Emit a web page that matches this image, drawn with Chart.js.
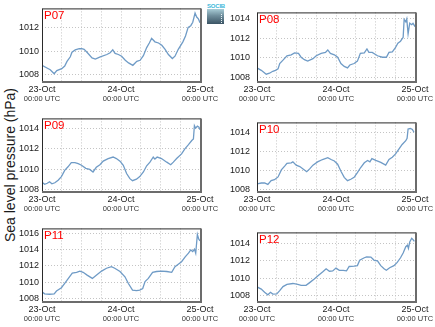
<!DOCTYPE html>
<html>
<head>
<meta charset="utf-8">
<script src="https://cdn.jsdelivr.net/npm/chart.js@4"></script>
<style>
  body { margin: 0; background: #fff; width: 435px; height: 327px; overflow: hidden; position: relative;
         font-family: "Liberation Sans", Arial, sans-serif; }
  .panel { position: absolute; width: 220px; height: 103px; }
  #ylabel { position: absolute; left: 10px; top: 165px; transform: translate(-50%, -50%) rotate(-90deg);
            font-size: 14px; white-space: nowrap; color: #1a1a1a; }
  #logo { position: absolute; left: 207px; top: 3px; width: 17px; }
  #logo .txt { font-size: 6px; font-weight: bold; color: #3cb8da; line-height: 6px; letter-spacing: -0.2px; }
  #logo .box { position: relative; margin-top: 0px; width: 17px; height: 15px;
               background: linear-gradient(#a8ccd6, #6f8e9c 45%, #3b5464); }
  #logo .box span { position: absolute; left: 14px; top: 5px; height: 9px; border-left: 1px dotted #e8f2f6; }
</style>
</head>
<body>
<div id="ylabel">Sea level pressure (hPa)</div>
<div id="logo"><div class="txt">SOCIB</div><div class="box"><span></span></div></div>

<canvas id="c0" class="panel" width="220" height="103" style="left:0;top:0"></canvas>
<canvas id="c1" class="panel" width="220" height="103" style="left:215px;top:0"></canvas>
<canvas id="c2" class="panel" width="220" height="103" style="left:0;top:110px"></canvas>
<canvas id="c3" class="panel" width="220" height="103" style="left:215px;top:110px"></canvas>
<canvas id="c4" class="panel" width="220" height="103" style="left:0;top:220px"></canvas>
<canvas id="c5" class="panel" width="220" height="103" style="left:215px;top:220px"></canvas>

<script>
// hours since 23-Oct 00:00 UTC and sea level pressure (hPa) for each station
const p07Hours = [0,1.5,2.5,3.7,4.5,6,6.9,7.6,8.6,9.1,10.1,11.3,12.1,12.8,13.8,15.2,16.2,17.7,19.7,20.7,
  21.5,22.2,23.2,24.2,25.3,26.3,27.6,28.8,29.8,30.8,31.8,32.6,33.3,34.3,35.4,36.4,37.4,38.4,39.6,40.4,
  41.4,42.8,43.6,44.4,45.2,45.8,46.5,47,47.5,48];
const p07Pres = [1008.76,1008.53,1008.38,1008.03,1008.3,1008.47,1008.7,1009.1,1009.5,1009.9,
  1010.1,1010.2,1010.2,1010.15,1009.85,1009.4,1009.3,1009.5,1009.7,1009.85,
  1010.1,1009.8,1009.7,1009.55,1009.2,1008.97,1008.76,1009.1,1009.2,1009.6,
  1010.3,1010.7,1011.1,1010.8,1010.7,1010.5,1010.15,1009.7,1009.35,1009.55,
  1010.15,1010.8,1011.3,1012.05,1012.2,1012.5,1013.3,1012.95,1012.8,1012.45];

const p08Hours = [0,1.3,2.8,3.8,4.8,5.6,6.4,6.9,7.9,9.1,10.4,11.4,12.6,13.4,14.4,15.4,17,18,19.5,20.8,
  21.5,22.3,23.5,24.5,25.5,26.5,27.5,28.2,29.5,30.5,31.4,32.6,33.4,34,35,36.6,38.1,39.3,40.1,41.1,
  42,42.8,43.6,44.4,44.7,45.2,45.5,45.9,46.4,47,47.4,48];
const p08Pres = [1008.95,1008.7,1008.3,1008.4,1008.6,1008.7,1008.85,1009.4,1009.75,1010.2,
  1010.3,1010.5,1010.45,1010.05,1009.8,1009.65,1009.9,1010.2,1010.45,1010.55,
  1010.8,1010.45,1010.3,1010.05,1009.4,1009.1,1008.95,1009.25,1009.4,1009.65,
  1010.45,1010.5,1010.9,1010.55,1010.55,1010.2,1010.05,1010.05,1010.55,1010.6,
  1011,1011.5,1011.7,1012.1,1013.95,1013.7,1014,1012.45,1013.55,1013.4,1013.55,1013.2];

const p09Hours = [0,0.8,1.6,2.3,3,3.9,4.9,5.9,6.9,7.9,8.9,10,11,12,13.3,14.5,15.5,16.5,17.6,18.6,
  20.1,21.6,22.6,23.7,24.7,25.7,26.7,27.5,28.7,29.7,30.8,31.8,32.8,33.8,34.3,35,36.3,37.9,39.1,39.9,
  40.9,42.4,43.4,44.5,45.5,46,46.3,46.7,47.2,47.7,48];
const p09Pres = [1008.75,1008.55,1008.65,1008.8,1008.6,1008.7,1008.95,1009.3,1009.9,1010.25,
  1010.65,1010.65,1010.55,1010.4,1010.1,1010,1009.75,1010.2,1010.45,1010.8,
  1011.05,1011.2,1011.05,1010.8,1010.4,1009.6,1009.1,1008.9,1009.05,1009.3,
  1009.75,1010.35,1010.7,1011.2,1011,1011.2,1011.05,1010.7,1010.45,1010.7,
  1011.05,1011.5,1012,1012.4,1012.8,1012.95,1014.25,1014,1014.2,1014.1,1013.85];

const p10Hours = [0,1.3,2.3,3.3,4.3,5.3,6.4,7.4,8.4,9.1,10.4,10.9,11.9,13,14,15.1,16,17,18.4,19.9,
  21.5,22.5,23.5,24.5,25.5,26.5,27.5,28.5,29.5,30.5,31.5,32.6,33.6,34.3,34.9,36.1,37.6,39.1,40.1,41.1,
  42.1,43.1,44.1,45.2,45.6,45.9,46.6,47.2,47.7];
const p10Pres = [1008.55,1008.65,1008.65,1008.5,1008.9,1009,1009.3,1010.05,1010.45,1010.75,
  1010.8,1010.9,1010.55,1010.4,1010.15,1009.85,1010.15,1010.55,1010.9,1011.15,
  1011.35,1011.15,1011,1010.65,1009.9,1009.25,1008.9,1009.05,1009.25,1009.75,
  1010.3,1010.8,1011.05,1010.9,1011.25,1011.05,1010.85,1010.55,1011.15,1011.4,
  1011.75,1012.25,1012.75,1013.15,1013.4,1014.4,1014.45,1014.35,1014.05];

const p11Hours = [0,0.8,2.3,3.7,4.4,5.9,6.9,7.9,9.2,10.5,11.5,12.5,13.7,15.3,16.5,18.1,19.6,21.1,22.1,23.7,
  25.2,26.2,27.5,28.7,29.7,30.6,31.3,32.3,33.6,34.8,36.3,37.9,39.4,40.4,41.4,42.4,43.5,44.5,45.2,45.8,
  46.3,46.7,47.2,47.6,48];
const p11Pres = [1008.8,1008.55,1008.5,1008.55,1008.9,1009.3,1009.85,1010.4,1011.1,1011.2,
  1011.35,1011.2,1010.85,1010.45,1010.85,1011.35,1011.7,1011.9,1011.7,1011.3,
  1010.65,1009.85,1009,1008.95,1009,1009.2,1010.05,1010.45,1011.2,1011.3,
  1011.35,1011.3,1011.2,1011.9,1012.2,1012.5,1013.1,1013.55,1013.95,1013.75,
  1014.05,1013.55,1015.85,1015.3,1015.05];

const p12Hours = [0,1.3,2.3,3.3,4.1,4.8,6,6.9,7.9,9.1,10.9,12.4,13.4,14.9,15.9,17.4,18.8,20,21,22,
  23,24,25,26.2,27.2,28,29.5,30.5,31.2,32.6,33.3,34.6,35.6,36.6,37.6,38.6,39.3,40.3,41.6,42.6,
  43.6,44.4,45.2,45.7,46,46.4,47,47.4,47.8];
const p12Pres = [1008.98,1008.73,1008.36,1008.07,1008.36,1008.15,1008.18,1008.55,1009.02,1009.27,
  1009.38,1009.27,1009.16,1009.16,1009.45,1009.89,1010.36,1010.73,1011.09,1010.8,
  1010.84,1011.16,1010.91,1010.91,1010.84,1011.35,1011.38,1011.45,1012.07,1012.36,
  1012.47,1012.44,1012.07,1012,1011.45,1011.09,1010.91,1011.2,1011.45,1011.82,
  1012.36,1012.91,1013.64,1013.82,1013.45,1014.18,1014.62,1014.47,1014.25];

const stations = ['P07', 'P08', 'P09', 'P10', 'P11', 'P12'];
const stationHours = [p07Hours, p08Hours, p09Hours, p10Hours, p11Hours, p12Hours];
const stationPres = [p07Pres, p08Pres, p09Pres, p10Pres, p11Pres, p12Pres];
const yMin = [1007.4, 1007.6, 1007.9, 1007.8, 1007.67, 1007.35];
const yMax = [1013.7, 1014.67, 1014.95, 1015.1, 1016.6, 1015.3];

const dayHours = [0, 24, 48];
const dayLabels = ['23-Oct', '24-Oct', '25-Oct'];
const timeLabel = '00:00 UTC';

const FONT = '"Liberation Sans", Arial, sans-serif';

// frame, station name and the two-line date labels under each panel
const panelDecor = {
  id: 'panelDecor',
  afterDraw(chart) {
    const { ctx, chartArea: a } = chart;
    const x = chart.scales.x;
    ctx.save();
    ctx.strokeStyle = '#2a2a2a';
    ctx.lineWidth = 1;
    ctx.strokeRect(a.left + 0.5, a.top + 0.5, a.width, a.height);
    // heavier grey edge on the right and bottom
    ctx.strokeStyle = '#6c6c6c';
    ctx.lineWidth = 2;
    ctx.beginPath();
    ctx.moveTo(a.right + 1, a.top);
    ctx.lineTo(a.right + 1, a.bottom + 1);
    ctx.lineTo(a.left, a.bottom + 1);
    ctx.stroke();

    ctx.fillStyle = '#ff0000';
    ctx.font = '11.5px ' + FONT;
    ctx.textAlign = 'left';
    ctx.textBaseline = 'alphabetic';
    ctx.fillText(chart.options.plugins.panelDecor.name, a.left + 2, a.top + 11);

    ctx.textAlign = 'center';
    dayHours.forEach((h, i) => {
      const px = x.getPixelForValue(h);
      ctx.fillStyle = '#1a1a1a';
      ctx.font = '9px ' + FONT;
      ctx.fillText(dayLabels[i], px, a.bottom + 11);
      ctx.fillStyle = '#333';
      ctx.font = '7.5px ' + FONT;
      ctx.fillText(timeLabel, px, a.bottom + 20);
    });
    ctx.restore();
  }
};

stations.forEach((name, i) => {
  const rightCol = i % 2 === 1;
  const points = stationHours[i].map((h, k) => ({ x: h, y: stationPres[i][k] }));
  new Chart(document.getElementById('c' + i), {
    type: 'line',
    data: {
      datasets: [{
        data: points,
        borderColor: '#6f9bc6',
        borderWidth: 1.3,
        pointRadius: 0,
        tension: 0,
        fill: false
      }]
    },
    options: {
      responsive: false,
      animation: false,
      layout: { autoPadding: false, padding: { top: 8, right: 20, bottom: 0, left: 0 } },
      plugins: {
        legend: { display: false },
        tooltip: { enabled: false },
        panelDecor: { name: name }
      },
      scales: {
        x: {
          type: 'linear',
          min: 0,
          max: 48,
          ticks: { display: false, stepSize: 6, includeBounds: false },
          grid: { color: '#c4c4c4', drawTicks: false },
          border: { display: false, dash: [1, 2] },
          afterFit(scale) { scale.height = 22; }
        },
        y: {
          min: yMin[i],
          max: yMax[i],
          ticks: {
            stepSize: 2,
            includeBounds: false,
            padding: rightCol ? 7 : 3,
            color: '#1a1a1a',
            font: { family: FONT, size: 9 },
            callback: v => String(v)
          },
          grid: { color: '#c4c4c4', drawTicks: false },
          border: { display: false, dash: [1, 2] },
          afterFit(scale) { scale.width = 42; }
        }
      }
    },
    plugins: [panelDecor]
  });
});
</script>
</body>
</html>
